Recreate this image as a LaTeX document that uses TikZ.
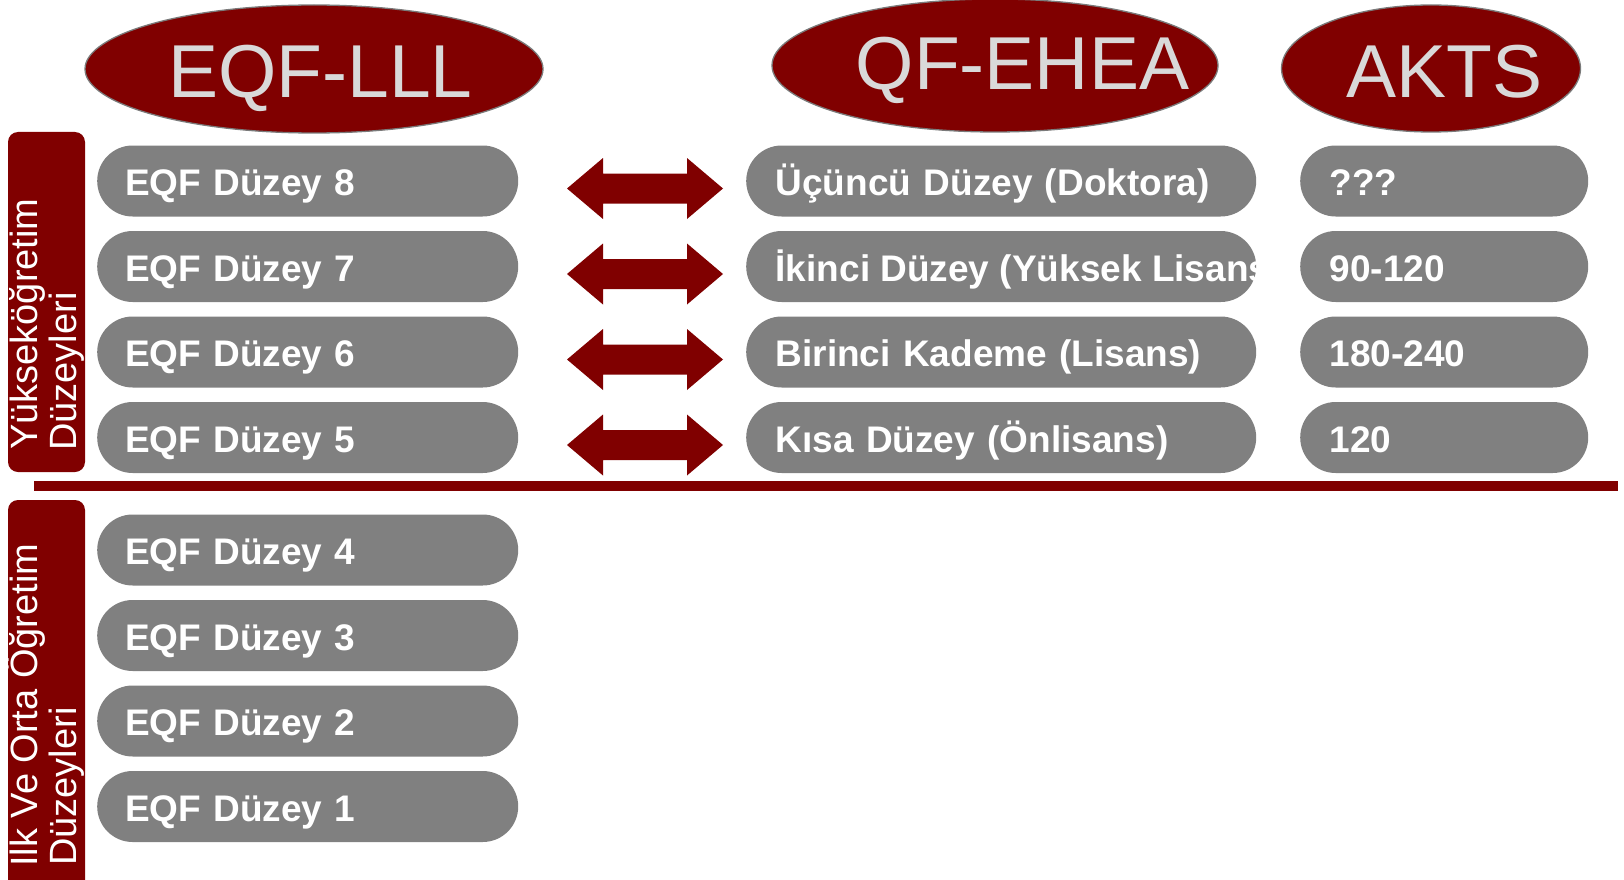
\documentclass[tikz,border=0pt]{standalone}
\usepackage{fontspec}
\setmainfont{Liberation Sans}
\usetikzlibrary{shapes.geometric}
\definecolor{maroonred}{HTML}{800000}
\definecolor{boxgray}{HTML}{808080}
\definecolor{headtxt}{HTML}{D9D9D9}
\definecolor{rimgray}{HTML}{7A7A7A}
\begin{document}
\begin{tikzpicture}[x=1pt,y=-1pt,
  head/.style={ellipse, fill=maroonred, draw=rimgray, line width=1.3pt, inner sep=0pt},
  headtext/.style={anchor=base west, inner sep=0pt, text=headtxt, font=\fontsize{75}{80}\selectfont},
  pill/.style={anchor=west, fill=boxgray, rounded corners=35.5pt, minimum height=71pt,
     inner ysep=0pt, text=white, font=\fontsize{37}{40}\selectfont\bfseries,
     text height=29pt, text depth=0pt, align=left},
  leftpill/.style={pill, inner xsep=28pt, text width=365pt},
  midpill/.style={pill, inner xsep=29.5pt, text width=451pt},
  aktspill/.style={pill, inner xsep=29.5pt, text width=229pt},
  overtext/.style={anchor=base west, inner sep=0pt, text=white, font=\fontsize{37}{40}\selectfont\bfseries},
  sidebox/.style={fill=maroonred, rounded corners=10pt, minimum width=77pt, inner sep=0pt},
  sidetext/.style={anchor=base west, rotate=90, inner sep=0pt, text=white, font=\fontsize{38}{40}\selectfont},
  dblarrow/.pic={\fill[maroonred] (-78,0) -- (-42,-30.5) -- (-42,-15) -- (42,-15) -- (42,-30.5)
      -- (78,0) -- (42,30.5) -- (42,15) -- (-42,15) -- (-42,30.5) -- cycle;}
]
\clip (0,0) rectangle (1624,880);
\fill[white] (0,0) rectangle (1624,880);

% headers
\node[head, minimum width=458pt, minimum height=128pt] (hEQF) at (314,69) {};
\node[headtext] (hEQFt) at (168,98) {EQF-LLL};
\node[head, minimum width=446pt, minimum height=133pt] (hQF) at (995,65.5) {};
\node[headtext] (hQFt) at (855.5,90) {QF-EHEA};
\node[head, minimum width=299pt, minimum height=127pt] (hAKTS) at (1431,68.5) {};
\node[headtext] (hAKTSt) at (1346,98) {AKTS};

% side boxes
\node[sidebox, minimum height=340pt] (sideTop) at (46.5,302) {};
\node[sidetext] (sideTop1) at (37,450) {Yükseköğretim};
\node[sidetext] (sideTop2) at (76,451) {Düzeyleri};
\node[sidebox, minimum height=410pt] (sideBot) at (46.5,705) {};
\node[sidetext] (sideBot1) at (37,867) {Ilk Ve Orta Öğretim};
\node[sidetext] (sideBot2) at (76,866) {Düzeyleri};

% separator
\coordinate (sepL) at (34,486);
\coordinate (sepR) at (1618,486);
\draw[maroonred, line width=10pt] (sepL) -- (sepR);

% left column
\node[leftpill] (l8) at (97,181) {EQF Düzey 8};
\node[leftpill] (l7) at (97,266.5) {EQF Düzey 7};
\node[leftpill] (l6) at (97,352) {EQF Düzey 6};
\node[leftpill] (l5) at (97,437.5) {EQF Düzey 5};
\node[leftpill] (l4) at (97,550) {EQF Düzey 4};
\node[leftpill] (l3) at (97,635.5) {EQF Düzey 3};
\node[leftpill] (l2) at (97,721) {EQF Düzey 2};
\node[leftpill] (l1) at (97,806.5) {EQF Düzey 1};

% middle column
\node[midpill] (m8) at (746,181) {Üçüncü Düzey (Doktora)};
\node[midpill] (m7) at (746,266.5) {};
\begin{scope}
  \clip[rounded corners=35.5pt] (m7.south west) rectangle (m7.north east);
  \node[overtext] (m7t) at ([xshift=29.5pt,yshift=-14.5pt]m7.west) {İkinci Düzey (Yüksek Lisans)};
\end{scope}
\node[midpill] (m6) at (746,352) {Birinci Kademe (Lisans)};
\node[midpill] (m5) at (746,437.5) {Kısa Düzey (Önlisans)};

% AKTS column
\node[aktspill] (a8) at (1300,181) {???};
\node[aktspill] (a7) at (1300,266.5) {90-120};
\node[aktspill] (a6) at (1300,352) {180-240};
\node[aktspill] (a5) at (1300,437.5) {120};

% arrows
\pic at (645,188.5) {dblarrow};
\pic at (645,274) {dblarrow};
\pic at (645,359.5) {dblarrow};
\pic at (645,445) {dblarrow};
\end{tikzpicture}
\end{document}
